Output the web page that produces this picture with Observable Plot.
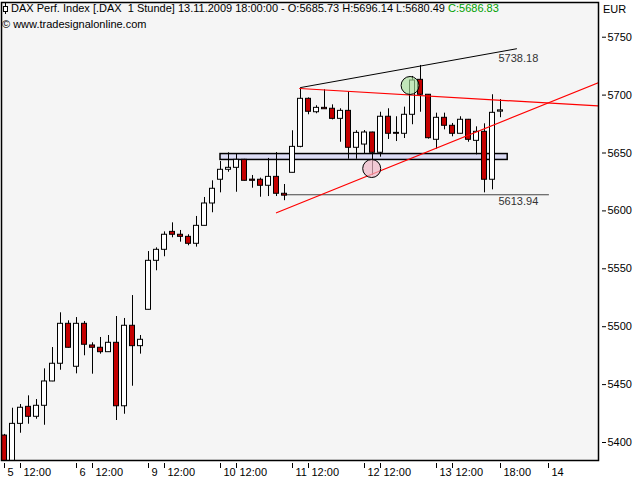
<!DOCTYPE html>
<html>
<head>
<meta charset="utf-8">
<script src="https://cdn.jsdelivr.net/npm/d3@7"></script>
<script src="https://cdn.jsdelivr.net/npm/@observablehq/plot@0.6"></script>
<style>
  html, body { margin: 0; padding: 0; background: #ffffff; }
  #chart svg { display: block; }
</style>
</head>
<body>
<div id="chart"></div>
<script>
// ---- Data (hourly bars, DAX, 5 Nov 2009 10:00 .. 13 Nov 2009 18:00) ----
const barIndex = d3.range(63);
const open  = [5406,5378,5416.1,5430.8,5422.2,5431.7,5452.7,5468.0,5502.5,5465.4,
               5502.5,5483.8,5481.8,5478.0,5486.1,5431.3,5500.8,5483.2,5514.6,5556.9,
               5566.4,5581.9,5579.4,5577.6,5571.6,5587.1,5606.4,5626.9,5635.5,5637.2,
               5644.1,5627.0,5626.9,5621.7,5629.4,5614.8,5632.9,5655.3,5696.8,5685.2,
               5689.0,5688.2,5679.5,5686.4,5654.5,5657.3,5667.7,5650.2,5681.3,5667.4,
               5666.6,5683.0,5713.2,5700.3,5661.4,5680.4,5673.5,5666.6,5678.7,5660.5,
               5668.3,5626.9,5685.73];
const high  = [5407,5429.6,5432.8,5440.3,5437.1,5463.6,5482.0,5512.0,5505.1,5507.9,
               5504.5,5486.1,5490.7,5492.4,5508.8,5507.1,5526.9,5492.4,5564.9,5568.1,
               5581.9,5589.7,5583.1,5579.4,5595.2,5611.6,5626.0,5642.7,5650.2,5648.7,
               5644.5,5630.6,5628.3,5645.3,5650.4,5622.8,5669.2,5705.7,5697.6,5690.8,
               5704.6,5691.6,5688.2,5702.8,5669.2,5669.4,5668.0,5685.2,5688.2,5681.3,
               5689.6,5716.1,5725.6,5700.5,5684.4,5684.4,5675.5,5681.3,5679.0,5672.6,
               5675.2,5700.3,5696.14];
const low   = [5370,5370,5408.0,5415.8,5420.1,5414.9,5452.5,5462.4,5481.5,5459.3,
               5474.9,5459.0,5476.3,5477.9,5419.0,5424.4,5448.6,5476.3,5514.5,5548.3,
               5560.4,5576.8,5573.0,5569.9,5568.7,5587.0,5598.4,5615.6,5633.4,5616.1,
               5625.8,5619.6,5611.8,5612.4,5612.4,5608.8,5632.8,5654.5,5683.0,5683.9,
               5687.8,5678.6,5659.3,5644.6,5644.6,5649.0,5630.6,5646.4,5661.7,5659.9,
               5662.5,5674.4,5685.2,5662.0,5653.3,5670.0,5664.0,5666.5,5659.3,5648.4,
               5615.6,5618.2,5680.49];
const close = [5378,5416.1,5430.0,5422.2,5431.7,5452.7,5468.0,5502.5,5481.8,5502.5,
               5484.4,5481.8,5478.0,5486.1,5431.3,5500.8,5483.2,5488.7,5556.9,5566.4,
               5579.4,5579.4,5577.6,5571.6,5587.1,5606.4,5619.1,5635.5,5637.2,5644.1,
               5626.0,5626.0,5621.7,5629.4,5614.8,5613.2,5655.3,5696.8,5685.6,5689.0,
               5687.8,5679.5,5686.4,5654.5,5667.4,5667.7,5650.2,5681.3,5666.6,5666.6,
               5683.0,5712.6,5700.3,5662.8,5680.4,5673.5,5666.6,5678.7,5661.4,5668.3,
               5626.9,5684.7,5686.83];

// x axis ticks (bar index) and labels
const xTickIndex = [0, 2, 9, 11, 18, 20, 27, 29, 36, 38, 45, 47, 54, 56, 62, 68];
const xTickLabel = ["5","12:00","6","12:00","9","12:00","10","12:00","11","12:00","12","12:00","13","12:00","18:00","14"];
// y axis ticks
const yTicks = [5400, 5450, 5500, 5550, 5600, 5650, 5700, 5750];

// Drawn annotations (in data units: bar index / index points)
const resistX = [36.9, 74.3], resistY = [5705.7, 5690.6];   // red, nearly flat
const supportX = [34, 74.3], supportY = [5598.4, 5710.9];   // red, rising
const trendX = [37, 64], trendY = [5706.5, 5740.0];         // black upper line
const trendLabel = 5738.18;
const levelX = [34.7, 68], levelValue = 5613.94;            // horizontal grey level
const zoneX = [27, 62.9], zoneY = [5644.0, 5649.1];          // blue band
const markGreen = {i: 50.7, v: 5708.3};
const markPink = {i: 45.9, v: 5636.6};

// header
const title = "DAX Perf. Index [.DAX  1 Stunde] 13.11.2009 18:00:00";
const source = "\u00A9 www.tradesignalonline.com";
const currency = "EUR";

// ---- Build ----
const bars = barIndex.map(i => ({i, o: open[i], h: high[i], l: low[i], c: close[i]}));
const last = bars[bars.length - 1];
const f2 = v => v.toFixed(2);

const FONT = "'Liberation Sans', Arial, sans-serif";

const chart = Plot.plot({
  width: 640,
  height: 480,
  marginLeft: 1,
  marginRight: 42,
  marginTop: 2,
  marginBottom: 20,
  x: {domain: [-0.375, 74.25], axis: null},
  y: {domain: [5384.46, 5779.97], axis: null},
  color: {type: "identity"},
  style: {fontFamily: FONT, fontSize: "11px", background: "#ffffff", color: "#000"},
  marks: [
    Plot.frame({fill: "#f5f5f5"}),
    // blue band
    Plot.rect([{x1: zoneX[0], x2: zoneX[1], y1: zoneY[0], y2: zoneY[1]}],
      {x1: "x1", x2: "x2", y1: "y1", y2: "y2", fill: "#dcdcf5", stroke: "#000", strokeWidth: 1.5}),
    // horizontal level
    Plot.line(levelX.map(x => ({x, y: levelValue})), {x: "x", y: "y", stroke: "#444", strokeWidth: 1}),
    Plot.text([{x: 61.75, y: levelValue, t: f2(levelValue)}],
      {x: "x", y: "y", text: "t", textAnchor: "start", dy: 7, fill: "#333", fontSize: 11}),
    // wicks
    Plot.ruleX(bars, {x: "i", y1: "l", y2: "h", stroke: "#000", strokeWidth: 1, clip: true}),
    // bodies
    Plot.rect(bars, {
      x1: d => d.i - 0.5, x2: d => d.i + 0.5,
      y1: "o", y2: "c",
      insetLeft: 1.5, insetRight: 1.5,
      fill: d => d.c >= d.o ? "#ffffff" : "#c40000",
      stroke: "#000", strokeWidth: 1, clip: true
    }),
    // trend lines
    Plot.line(trendX.map((x, k) => ({x, y: trendY[k]})), {x: "x", y: "y", stroke: "#000", strokeWidth: 1, clip: true}),
    Plot.text([{x: 61.75, y: trendLabel, t: f2(trendLabel)}],
      {x: "x", y: "y", text: "t", textAnchor: "start", dy: 8, fill: "#333", fontSize: 11}),
    Plot.line(resistX.map((x, k) => ({x, y: resistY[k]})), {x: "x", y: "y", stroke: "#ff0000", strokeWidth: 1.2, clip: true}),
    Plot.line(supportX.map((x, k) => ({x, y: supportY[k]})), {x: "x", y: "y", stroke: "#ff0000", strokeWidth: 1.2, clip: true}),
    // highlight marks
    Plot.dot([markGreen], {x: "i", y: "v", r: 9, fill: "#a6dc98", fillOpacity: 0.65, stroke: "#000", strokeWidth: 1}),
    Plot.dot([markPink], {x: "i", y: "v", r: 9, fill: "#f0b8c8", fillOpacity: 0.7, stroke: "#000", strokeWidth: 1}),
    // frame border
    Plot.frame({stroke: "#000", strokeWidth: 1.5}),
    // axes
    Plot.axisY({anchor: "right", ticks: yTicks, tickSize: 4, tickPadding: 2, dx: 3, tickFormat: d => String(d), fontSize: 11}),
    Plot.axisX({anchor: "bottom", ticks: xTickIndex, tickSize: 5, dy: 3, tickFormat: () => ""}),
    Plot.axisX({anchor: "bottom", ticks: xTickIndex, tickSize: 0, tickPadding: 0,
      tickFormat: (d, k) => xTickLabel[xTickIndex.indexOf(d)], textAnchor: "start", dx: 3, dy: 8, fontSize: 11})
  ]
});

document.getElementById("chart").appendChild(chart);

// header text inside the frame
const svg = d3.select(chart);
const g = svg.append("g")
  .attr("font-family", FONT).attr("font-size", 11).attr("fill", "#000")
  .attr("text-anchor", "start");
// small candle icon
g.append("line").attr("x1", 5.5).attr("x2", 5.5).attr("y1", 3).attr("y2", 14).attr("stroke", "#000");
g.append("rect").attr("x", 3.5).attr("y", 6.5).attr("width", 4).attr("height", 5).attr("fill", "#fff").attr("stroke", "#000");
const t1 = g.append("text").attr("x", 11).attr("y", 12).attr("text-anchor", "start").style("white-space", "pre");
t1.append("tspan").text(`${title} - O:${f2(last.o)} H:${f2(last.h)} L:${f2(last.l)} `);
t1.append("tspan").attr("fill", "#00a000").text(`C:${f2(last.c)}`);
g.append("text").attr("x", 2).attr("y", 28).attr("text-anchor", "start").text(source);
g.append("text").attr("x", 603).attr("y", 13).attr("text-anchor", "start").text(currency);
</script>
</body>
</html>
